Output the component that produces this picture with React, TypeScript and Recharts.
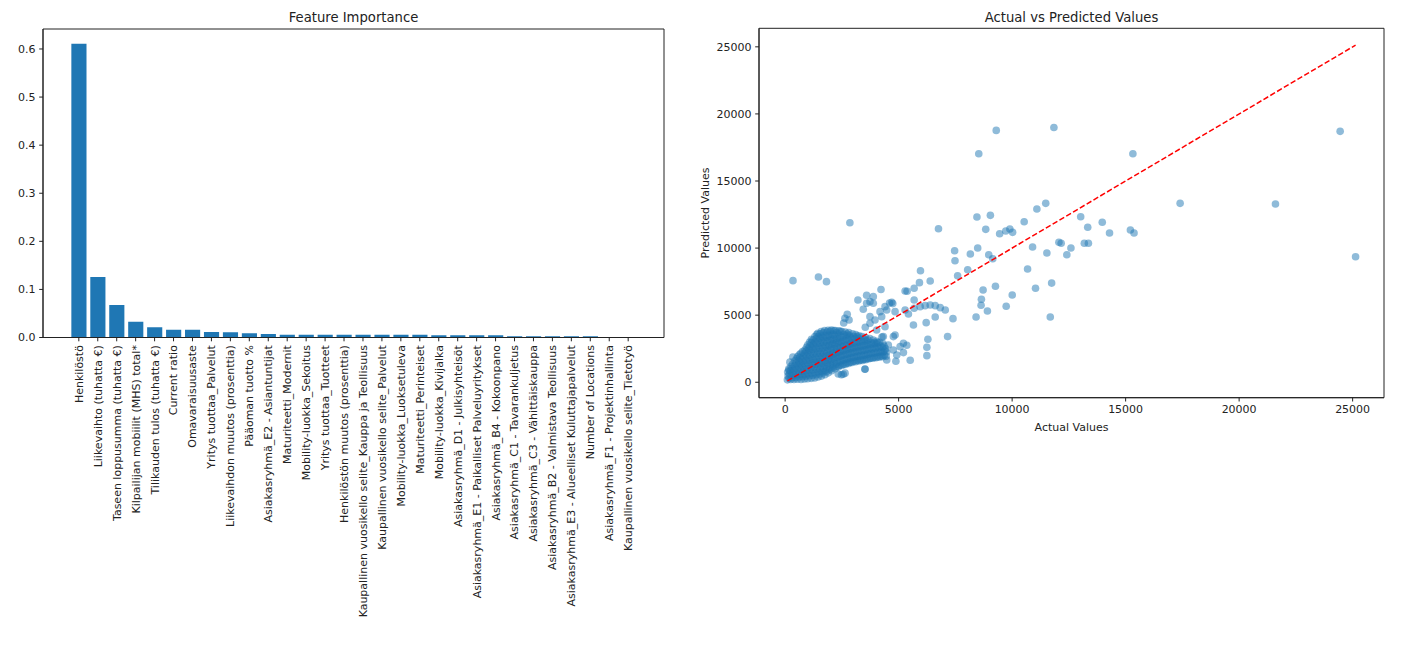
import React from 'react';
import {
  BarChart,
  Bar,
  XAxis,
  YAxis,
  ScatterChart,
  Scatter,
  CartesianGrid,
  Label,
} from 'recharts';

const FONT = '"DejaVu Sans", "Liberation Sans", sans-serif';
const BLUE = '#1f77b4';
const INK = '#222222';

// ---- Feature importance ----
const featureNames = [
  'Henkilöstö',
  'Liikevaihto (tuhatta €)',
  'Taseen loppusumma (tuhatta €)',
  'Kilpailijan mobiilit (MHS) total*',
  'Tilikauden tulos (tuhatta €)',
  'Current ratio',
  'Omavaraisuusaste',
  'Yritys tuottaa_Palvelut',
  'Liikevaihdon muutos (prosenttia)',
  'Pääoman tuotto %',
  'Asiakasryhmä_E2 - Asiantuntijat',
  'Maturiteetti_Modernit',
  'Mobility-luokka_Sekoitus',
  'Yritys tuottaa_Tuotteet',
  'Henkilöstön muutos (prosenttia)',
  'Kaupallinen vuosikello selite_Kauppa ja Teollisuus',
  'Kaupallinen vuosikello selite_Palvelut',
  'Mobility-luokka_Luoksetuleva',
  'Maturiteetti_Perinteiset',
  'Mobility-luokka_Kivijalka',
  'Asiakasryhmä_D1 - Julkisyhteisöt',
  'Asiakasryhmä_E1 - Paikalliset Palveluyritykset',
  'Asiakasryhmä_B4 - Kokoonpano',
  'Asiakasryhmä_C1 - Tavarankuljetus',
  'Asiakasryhmä_C3 - Vähittäiskauppa',
  'Asiakasryhmä_B2 - Valmistava Teollisuus',
  'Asiakasryhmä_E3 - Alueelliset Kuluttajapalvelut',
  'Number of Locations',
  'Asiakasryhmä_F1 - Projektinhallinta',
  'Kaupallinen vuosikello selite_Tietotyö',
];

const featureImportance = [
  0.611, 0.126, 0.0677, 0.033, 0.0212, 0.0163, 0.0163, 0.0115, 0.0108, 0.0088,
  0.0073, 0.0058, 0.0058, 0.0058, 0.0058, 0.0058, 0.0058, 0.0058, 0.0058, 0.0046,
  0.0046, 0.0046, 0.0046, 0.0025, 0.0025, 0.0025, 0.0025, 0.0025, 0.0, 0.0,
];

const importanceTicks = [0, 0.1, 0.2, 0.3, 0.4, 0.5, 0.6];

// ---- Actual vs predicted ----
const valueTicks = [0, 5000, 10000, 15000, 20000, 25000];

// [actual, predicted] — the dense low-value body of the data
const denseCluster: [number, number][] = [
  [100, 180], [130, 460], [110, 760], [160, 1000],
  [240, 200], [270, 520], [230, 840], [260, 1180],
  [390, 210], [420, 540], [380, 880], [410, 1230], [430, 1600],
  [540, 220], [570, 560], [530, 930], [560, 1280], [590, 1620], [550, 1920],
  [700, 200], [720, 590], [680, 960], [710, 1330], [730, 1720], [690, 2150],
  [850, 240], [870, 600], [830, 990], [860, 1380], [880, 1760], [840, 2100], [870, 2400],
  [990, 260], [1020, 640], [980, 1020], [1010, 1420], [1030, 1800], [990, 2180], [1020, 2520], [1000, 2800],
  [1150, 290], [1170, 680], [1130, 1060], [1160, 1450], [1180, 1850], [1140, 2220], [1170, 2600], [1150, 2950], [1160, 3200],
  [1300, 320], [1320, 700], [1280, 1100], [1310, 1500], [1330, 1880], [1290, 2260], [1320, 2650], [1300, 3000], [1310, 3400],
  [1450, 390], [1470, 760], [1430, 1140], [1460, 1530], [1480, 1920], [1440, 2300], [1470, 2700], [1450, 3050], [1460, 3400], [1440, 3650],
  [1600, 460], [1620, 820], [1580, 1180], [1610, 1560], [1630, 1950], [1590, 2330], [1620, 2720], [1600, 3100], [1610, 3450], [1590, 3780],
  [1750, 560], [1770, 900], [1730, 1240], [1760, 1600], [1780, 1980], [1740, 2360], [1770, 2750], [1750, 3130], [1760, 3500], [1740, 3850],
  [1900, 700], [1920, 1040], [1880, 1380], [1910, 1720], [1930, 2060], [1890, 2420], [1920, 2780], [1900, 3150], [1910, 3520], [1890, 3880],
  [2050, 860], [2070, 1200], [2030, 1540], [2060, 1880], [2080, 2220], [2040, 2560], [2070, 2900], [2050, 3250], [2060, 3600], [2040, 3900],
  [2200, 1010], [2220, 1350], [2180, 1700], [2210, 2050], [2230, 2400], [2190, 2750], [2220, 3100], [2200, 3450], [2210, 3860],
  [2350, 1150], [2370, 1500], [2330, 1850], [2360, 2200], [2380, 2550], [2340, 2900], [2370, 3250], [2350, 3600], [2360, 3840], [2340, 620],
  [2500, 1250], [2520, 1600], [2480, 1950], [2510, 2300], [2530, 2650], [2490, 3000], [2520, 3350], [2500, 3780], [2480, 560], [2560, 600],
  [2650, 1330], [2670, 1680], [2630, 2030], [2660, 2380], [2680, 2730], [2640, 3080], [2670, 3450], [2650, 3740], [2640, 680],
  [2800, 1400], [2820, 1750], [2780, 2100], [2810, 2450], [2830, 2800], [2790, 3150], [2820, 3500], [2800, 3700],
  [2950, 1480], [2970, 1820], [2930, 2170], [2960, 2520], [2980, 2870], [2940, 3220], [2970, 3620],
  [3100, 1530], [3120, 1880], [3080, 2230], [3110, 2580], [3130, 2930], [3090, 3280], [3110, 3550],
  [3250, 1580], [3270, 1930], [3230, 2280], [3260, 2630], [3280, 2980], [3240, 3300], [3260, 3470],
  [3400, 1630], [3420, 1980], [3380, 2330], [3410, 2680], [3430, 3030], [3390, 3400],
  [3550, 1680], [3570, 2030], [3530, 2380], [3560, 2730], [3580, 3080], [3540, 3330], [3520, 980],
  [3700, 1750], [3720, 2100], [3680, 2450], [3710, 2800], [3730, 3250],
  [3850, 1790], [3870, 2140], [3830, 2490], [3860, 2840], [3880, 3150],
  [4000, 1830], [4020, 2180], [3980, 2530], [4010, 2880], [4030, 3060],
  [4150, 1870], [4170, 2220], [4130, 2570], [4160, 2980],
  [4300, 1900], [4320, 2250], [4280, 2600], [4310, 2880],
  [4450, 1930], [4470, 2250], [4430, 2500],
];

// [actual, predicted] — further companies inside the same body
const denseClusterInner: [number, number][] = [
  [175, 300], [190, 620], [170, 900],
  [320, 340], [340, 680], [310, 1000], [330, 1350],
  [470, 360], [490, 710], [460, 1060], [480, 1420], [500, 1750],
  [620, 400], [640, 760], [610, 1120], [630, 1480], [650, 1850], [620, 2050],
  [770, 420], [790, 800], [760, 1170], [780, 1550], [800, 1930], [770, 2280],
  [920, 450], [940, 840], [910, 1220], [930, 1600], [950, 1950], [920, 2300], [940, 2600],
  [1070, 480], [1090, 880], [1060, 1270], [1080, 1650], [1100, 2020], [1070, 2380], [1090, 2700], [1080, 3000],
  [1220, 520], [1240, 920], [1210, 1300], [1230, 1700], [1250, 2100], [1220, 2450], [1240, 2820], [1230, 3150],
  [1370, 560], [1390, 960], [1360, 1350], [1380, 1720], [1400, 2120], [1370, 2500], [1390, 2880], [1380, 3250], [1390, 3550],
  [1520, 620], [1540, 1000], [1510, 1380], [1530, 1760], [1550, 2150], [1520, 2520], [1540, 2900], [1530, 3280], [1540, 3620],
  [1670, 700], [1690, 1060], [1660, 1420], [1680, 1800], [1700, 2180], [1670, 2560], [1690, 2950], [1680, 3320], [1690, 3700],
  [1820, 800], [1840, 1150], [1810, 1500], [1830, 1880], [1850, 2250], [1820, 2620], [1840, 3000], [1830, 3350], [1840, 3750],
  [1970, 950], [1990, 1300], [1960, 1650], [1980, 2000], [2000, 2380], [1970, 2740], [1990, 3100], [1980, 3450], [1990, 3800],
  [2120, 1080], [2140, 1430], [2110, 1780], [2130, 2130], [2150, 2500], [2120, 2850], [2140, 3200], [2130, 3550], [2140, 3850],
  [2270, 1180], [2290, 1530], [2260, 1880], [2280, 2230], [2300, 2600], [2270, 2950], [2290, 3300], [2280, 3700],
  [2420, 1280], [2440, 1630], [2410, 1980], [2430, 2330], [2450, 2700], [2420, 3050], [2440, 3450], [2430, 3800],
  [2570, 1350], [2590, 1700], [2560, 2050], [2580, 2430], [2600, 2780], [2570, 3150], [2590, 3550],
  [2720, 1430], [2740, 1780], [2710, 2130], [2730, 2500], [2750, 2850], [2720, 3250], [2740, 3600],
  [2870, 1500], [2890, 1850], [2860, 2200], [2880, 2580], [2900, 2950], [2870, 3350],
  [3020, 1560], [3040, 1900], [3010, 2250], [3030, 2620], [3050, 3000], [3020, 3400],
  [3170, 1620], [3190, 1960], [3160, 2320], [3180, 2680], [3200, 3050], [3170, 3420],
  [3320, 1660], [3340, 2000], [3310, 2380], [3330, 2750], [3350, 3150],
  [3470, 1700], [3490, 2060], [3460, 2420], [3480, 2800], [3500, 3200],
  [3620, 1760], [3640, 2120], [3610, 2480], [3630, 2850], [3650, 3150],
  [3770, 1800], [3790, 2180], [3760, 2550], [3780, 2950],
  [3920, 1850], [3940, 2220], [3910, 2600], [3930, 2950],
  [4070, 1900], [4090, 2280], [4060, 2650], [4080, 2950],
  [4220, 1950], [4240, 2320], [4210, 2700],
  [4370, 2000], [4390, 2350], [4360, 2700],
];

// [actual, predicted] — middle range, scattered around the body
const midRangePoints: [number, number][] = [
  [346, 7571], [1467, 7846], [1821, 7497], [2852, 11893],
  [210, 1500], [340, 1880],
  [2633, 4767], [2735, 5065], [2816, 4642], [2580, 4420],
  [3206, 6133], [3590, 6480], [3883, 6380], [4223, 6915], [3883, 5886],
  [3441, 5437], [3737, 6008], [3590, 5886], [3737, 4890], [3958, 4642], [4180, 5263], [4254, 4890],
  [3737, 4396], [4032, 3897], [4265, 3376], [4400, 4143], [4843, 3525], [4547, 2779], [4768, 2407],
  [4917, 2034], [5210, 2906], [5064, 2653], [5211, 2210], [4768, 3401], [4325, 3401],
  [4878, 1564], [5510, 1639], [4475, 1662], [3516, 969], [3531, 4096],
  [4696, 5961], [4741, 5861], [4600, 5900], [4400, 5636], [4475, 5388], [4843, 5263], [5285, 5388],
  [5431, 5090], [5683, 5511], [5948, 5636], [6169, 5710], [6390, 5760], [6611, 5710], [6832, 5561], [7054, 5388],
  [6611, 4866], [6213, 4442], [5652, 4270], [7394, 4741], [7156, 3401], [6289, 3202], [6244, 2608],
  [6244, 1983], [5359, 2757],
  [5285, 6803], [5373, 6779], [5683, 7004], [5683, 6133], [5962, 8316], [5917, 7422], [6390, 7548],
  [7466, 9806], [8159, 9560], [8483, 10007], [8969, 9508], [9146, 9210], [7483, 9061], [8041, 8390], [7598, 7943],
  [8646, 6185], [8720, 6878], [9265, 7153], [10004, 6505], [9738, 5663], [8632, 5738], [8911, 5313], [8411, 4866],
];

// [actual, predicted] — large companies
const highRangePoints: [number, number][] = [
  [6755, 11445], [8449, 12314], [9041, 12438], [8837, 11395], [9450, 11072], [9720, 11271], [9900, 11420], [10020, 11172],
  [8530, 17031], [9300, 18770], [11840, 18990], [15320, 17030], [24450, 18700], [17400, 13335], [21600, 13285], [25130, 9350],
  [11480, 13335], [11090, 12910], [10530, 11965], [13020, 12340], [13330, 11550], [13970, 11920], [14290, 11125],
  [15210, 11350], [15370, 11125],
  [12060, 10430], [12160, 10358], [12590, 10007], [13180, 10358], [13360, 10358], [10900, 10082], [11530, 9635], [12410, 9508],
  [10680, 8443], [11030, 7010], [11740, 7390], [11680, 4866],
];

const barData = featureNames.map((name, i) => ({ name, importance: featureImportance[i] }));
const importanceMax = Math.max(...featureImportance) * 1.05;

const scatterData = [...denseCluster, ...denseClusterInner, ...midRangePoints, ...highRangePoints].map(
  ([actual, predicted]) => ({ actual, predicted }),
);

// identity reference line spans the observed actual values
const actualMin = Math.min(...scatterData.map((d) => d.actual));
const actualMax = Math.max(...scatterData.map((d) => d.actual));
const predictedMin = Math.min(...scatterData.map((d) => d.predicted));
const predictedMax = Math.max(...scatterData.map((d) => d.predicted));
const identityLine = [
  { actual: actualMin, predicted: actualMin },
  { actual: actualMax, predicted: actualMax },
];

const padded = (lo: number, hi: number): [number, number] => {
  const pad = (hi - lo) * 0.05;
  return [lo - pad, hi + pad];
};
const xDomain = padded(actualMin, actualMax);
const yDomain = padded(Math.min(actualMin, predictedMin), Math.max(actualMax, predictedMax));

const tickStyle = { fontSize: 11, fill: INK, fontFamily: FONT };
const axisLine = { stroke: INK, strokeWidth: 1 };

// closed frame around the plotting area
const frameRows = ({ offset }: any) => [offset.top, offset.top + offset.height];
const frameCols = ({ offset }: any) => [offset.left, offset.left + offset.width];

function FeatureTick(props: any) {
  const { x, y, payload } = props;
  return (
    <text
      x={x}
      y={y}
      transform={`rotate(-90 ${x} ${y})`}
      textAnchor="end"
      dy="0.36em"
      fontSize={11}
      fontFamily={FONT}
      fill={INK}
    >
      {payload.value}
    </text>
  );
}

function PointMark(props: any) {
  return <circle cx={props.cx} cy={props.cy} r={3.8} fill={BLUE} fillOpacity={0.5} />;
}

function NoMark() {
  return <g />;
}

const titleStyle: React.CSSProperties = {
  position: 'absolute',
  fontFamily: FONT,
  fontSize: 13.2,
  lineHeight: '16px',
  color: INK,
  textAlign: 'center',
  whiteSpace: 'nowrap',
};

export default function App() {
  return (
    <div
      style={{
        position: 'absolute',
        left: 0,
        top: 0,
        width: 1416,
        height: 660,
        background: '#ffffff',
        overflow: 'hidden',
      }}
    >
      <div style={{ ...titleStyle, left: 43, top: 10.3, width: 621 }}>Feature Importance</div>
      <div style={{ position: 'absolute', left: 0, top: 0 }}>
        <BarChart
          width={680}
          height={660}
          data={barData}
          margin={{ top: 29, right: 16, bottom: 12.5, left: 0 }}
          barSize={15.15}
        >
          <CartesianGrid
            stroke={INK}
            strokeWidth={1}
            horizontalCoordinatesGenerator={frameRows}
            verticalCoordinatesGenerator={frameCols}
          />
          <XAxis
            dataKey="name"
            interval={0}
            height={310}
            tick={<FeatureTick />}
            tickSize={3.8}
            tickMargin={3.8}
            padding={{ left: 26.35, right: 26.35 }}
            axisLine={axisLine}
            tickLine={axisLine}
          />
          <YAxis
            width={43}
            type="number"
            domain={[0, importanceMax]}
            allowDataOverflow
            ticks={importanceTicks}
            tickFormatter={(v: number) => v.toFixed(1)}
            tickSize={3.8}
            tickMargin={3.8}
            tick={tickStyle}
            axisLine={axisLine}
            tickLine={axisLine}
          />
          <Bar dataKey="importance" fill={BLUE} isAnimationActive={false} />
        </BarChart>
      </div>

      <div style={{ ...titleStyle, left: 759, top: 9.5, width: 625 }}>Actual vs Predicted Values</div>
      <div style={{ position: 'absolute', left: 690, top: 0 }}>
        <ScatterChart width={710} height={440} margin={{ top: 28.3, right: 16, bottom: 6, left: 0 }}>
          <CartesianGrid
            stroke={INK}
            strokeWidth={1}
            horizontalCoordinatesGenerator={frameRows}
            verticalCoordinatesGenerator={frameCols}
          />
          <XAxis
            type="number"
            dataKey="actual"
            domain={xDomain}
            allowDataOverflow
            ticks={valueTicks}
            height={36.3}
            tickSize={3.8}
            tickMargin={3.8}
            tick={tickStyle}
            axisLine={axisLine}
            tickLine={axisLine}
          >
            <Label
              value="Actual Values"
              position="insideBottom"
              offset={3}
              style={{ fontSize: 11, fill: INK, fontFamily: FONT }}
            />
          </XAxis>
          <YAxis
            type="number"
            dataKey="predicted"
            domain={yDomain}
            allowDataOverflow
            ticks={valueTicks}
            width={69}
            tickSize={3.8}
            tickMargin={3.8}
            tick={tickStyle}
            axisLine={axisLine}
            tickLine={axisLine}
          >
            <Label
              value="Predicted Values"
              angle={-90}
              position="insideLeft"
              offset={15}
              style={{ fontSize: 11, fill: INK, fontFamily: FONT, textAnchor: 'middle' }}
            />
          </YAxis>
          <Scatter data={scatterData} shape={PointMark} isAnimationActive={false} />
          <Scatter
            data={identityLine}
            shape={NoMark}
            line={{ stroke: '#ff0000', strokeWidth: 1.5, strokeDasharray: '5.5 2.4' }}
            isAnimationActive={false}
          />
        </ScatterChart>
      </div>
    </div>
  );
}
